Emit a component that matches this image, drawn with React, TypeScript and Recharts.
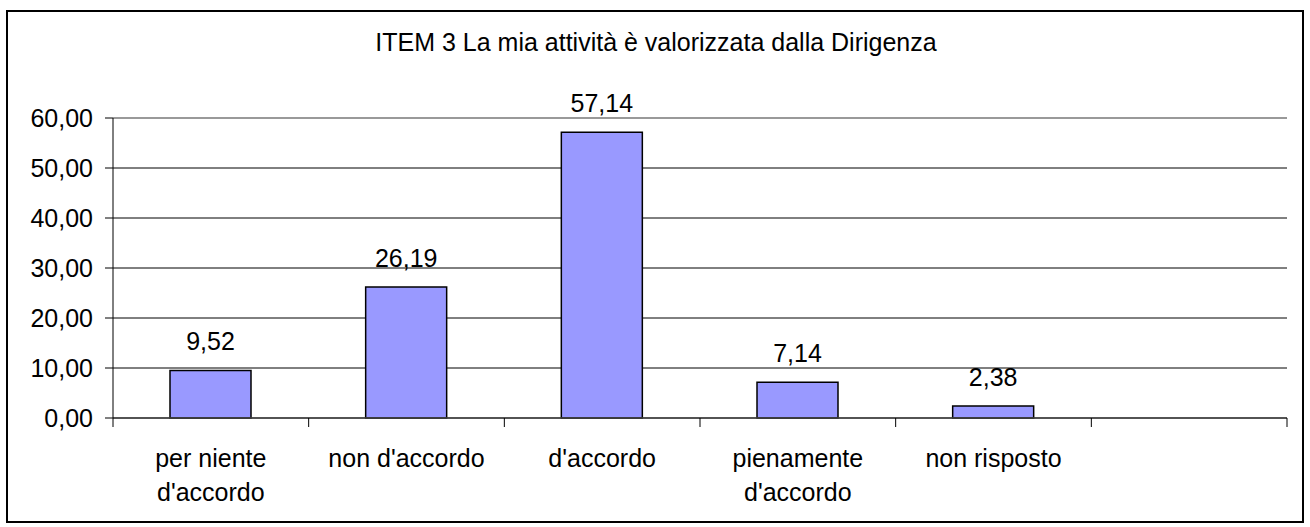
import React from "react";
import {
  BarChart,
  Bar,
  XAxis,
  YAxis,
  CartesianGrid,
  ReferenceLine,
  LabelList,
} from "recharts";

const categories = [
  "per niente d'accordo",
  "non d'accordo",
  "d'accordo",
  "pienamente d'accordo",
  "non risposto",
  "",
];
const percentages: (number | null)[] = [9.52, 26.19, 57.14, 7.14, 2.38, null];
const yTicks = [0, 10, 20, 30, 40, 50, 60];

const title = "ITEM 3 La mia attività è valorizzata dalla Dirigenza";
const font = "'Liberation Sans', Arial, sans-serif";
const fontSize = 25;
const xTickSize = 6;
const xTickMargin = 25;
const maxLineChars = 14;

const chartData = categories.map((name, i) => ({ name, value: percentages[i] }));

const fmt = (v: number) => v.toFixed(2).replace(".", ",");

// greedy word wrap, the way Excel breaks long category names
function wrap(label: string): string[] {
  const lines: string[] = [];
  let cur = "";
  for (const w of label.split(" ")) {
    const next = cur ? cur + " " + w : w;
    if (cur && next.length > maxLineChars) {
      lines.push(cur);
      cur = w;
    } else {
      cur = next;
    }
  }
  if (cur) lines.push(cur);
  return lines;
}

// category label + tick marks on the category boundaries
function CategoryTick(props: any) {
  const { x, y, payload, index, visibleTicksCount, width } = props;
  const half = payload?.offset ? payload.offset : width / visibleTicksCount / 2;
  const axisY = y - xTickSize - xTickMargin;
  const isLast = index === visibleTicksCount - 1;
  return (
    <g>
      <line x1={x - half} x2={x - half} y1={axisY} y2={axisY + 9} stroke="#000" />
      {isLast && <line x1={x + half} x2={x + half} y1={axisY} y2={axisY + 9} stroke="#000" />}
      <text x={x} y={y} textAnchor="middle" fontSize={fontSize} fontFamily={font} fill="#000">
        {wrap(String(payload.value)).map((line, i) => (
          <tspan key={i} x={x} dy={i === 0 ? "0.71em" : 34}>
            {line}
          </tspan>
        ))}
      </text>
    </g>
  );
}

export default function App() {
  return (
    <div style={{ position: "absolute", left: 0, top: 0, width: 1310, height: 527, background: "#fff" }}>
      <div
        style={{
          position: "absolute",
          left: 6,
          top: 10,
          width: 1294,
          height: 509,
          border: "2px solid #000",
        }}
      />
      <div
        style={{
          position: "absolute",
          left: 0,
          top: 28,
          width: 1312,
          textAlign: "center",
          fontFamily: font,
          fontSize: fontSize,
        }}
      >
        {title}
      </div>
      <div style={{ position: "absolute", left: 0, top: 0 }}>
        <BarChart
          width={1310}
          height={527}
          data={chartData}
          margin={{ top: 118, right: 23, left: 13, bottom: 49 }}
        >
          <CartesianGrid horizontal vertical={false} stroke="#000" strokeWidth={1} />
          <XAxis
            dataKey="name"
            height={60}
            tickLine={false}
            tickSize={xTickSize}
            tickMargin={xTickMargin}
            axisLine={{ stroke: "#444", strokeWidth: 1.5 }}
            interval={0}
            tick={<CategoryTick />}
          />
          <YAxis
            yAxisId={0}
            width={100}
            domain={[0, 60]}
            ticks={yTicks}
            interval={0}
            tickSize={8}
            tickMargin={12}
            tickFormatter={fmt}
            tickLine={{ stroke: "#000" }}
            axisLine={{ stroke: "#000" }}
            tick={{ fontSize: fontSize, fontFamily: font, fill: "#000" }}
          />
          <YAxis
            yAxisId="r"
            orientation="right"
            width={0}
            domain={[0, 60]}
            tick={false}
            tickLine={false}
            axisLine={{ stroke: "#999", strokeWidth: 2 }}
          />
          <ReferenceLine y={60} yAxisId={0} stroke="#999" strokeWidth={2} />
          <Bar
            dataKey="value"
            yAxisId={0}
            barSize={81}
            fill="#9999FF"
            stroke="#000"
            strokeWidth={1.5}
            isAnimationActive={false}
          >
            <LabelList
              dataKey="value"
              position="top"
              offset={20}
              formatter={(v: any) => (v == null ? "" : fmt(Number(v)))}
              style={{ fontSize: fontSize, fontFamily: font, fill: "#000" }}
            />
          </Bar>
        </BarChart>
      </div>
    </div>
  );
}
